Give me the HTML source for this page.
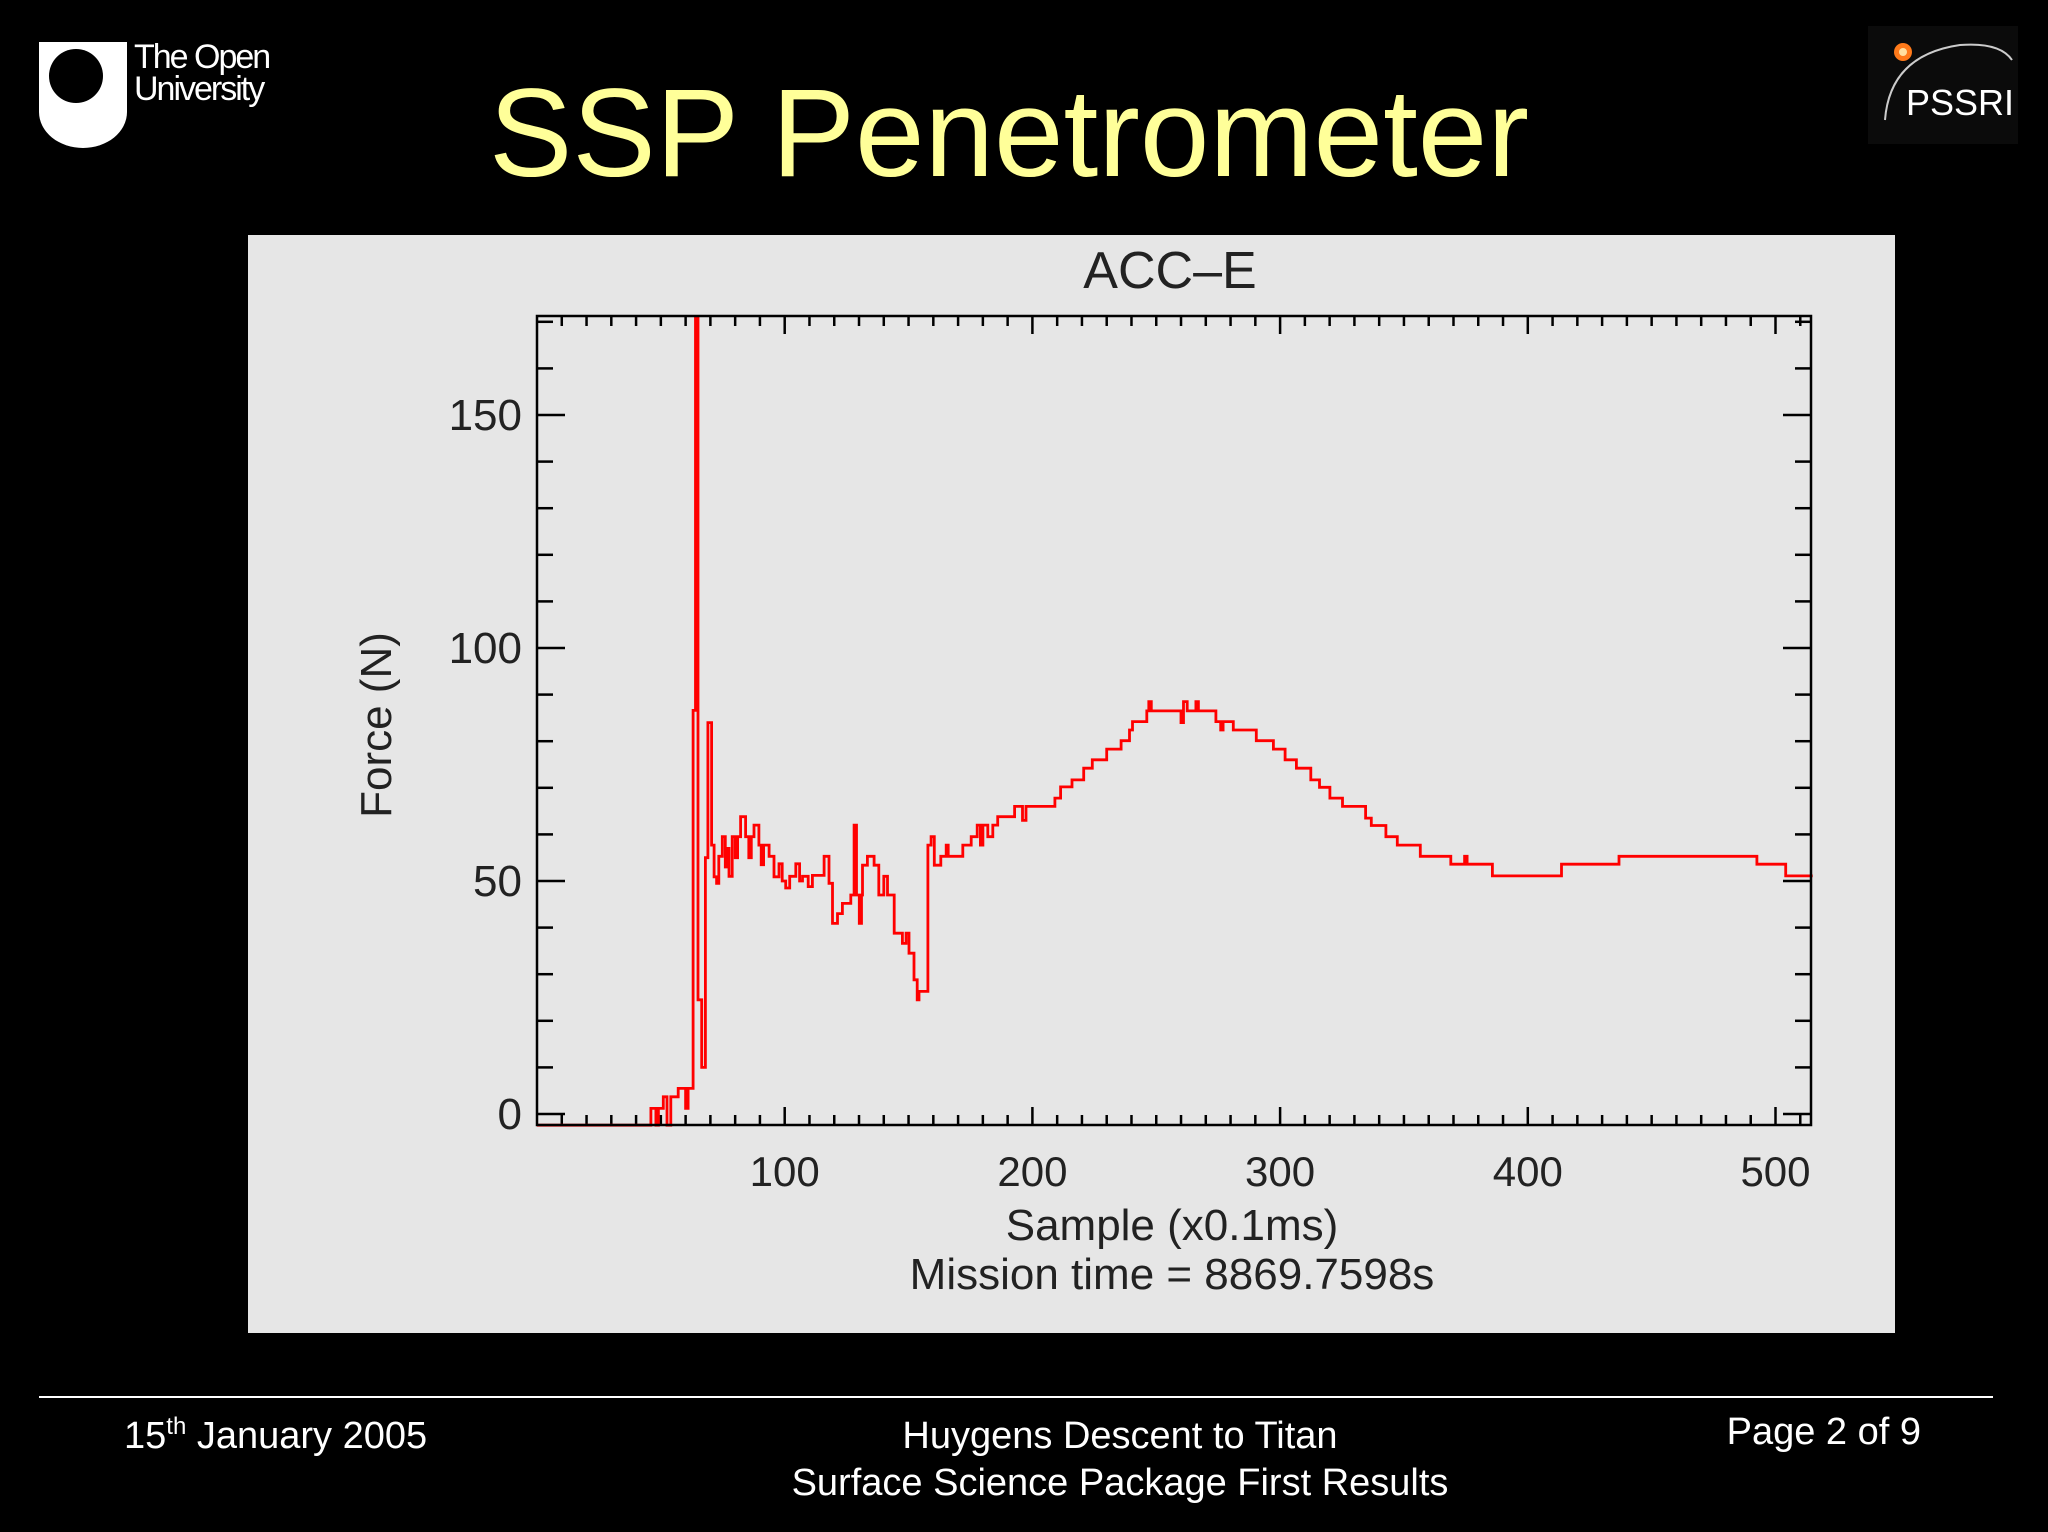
<!DOCTYPE html>
<html><head><meta charset="utf-8"><style>
html,body{margin:0;padding:0;background:#000;}
svg{display:block;}
</style></head><body>
<svg id="slide" width="2048" height="1532" viewBox="0 0 2048 1532" xmlns="http://www.w3.org/2000/svg" font-family="Liberation Sans, sans-serif">
<rect x="0" y="0" width="2048" height="1532" fill="#000"/>
<g>
  <path d="M39 42 H127 V112 A44 36 0 0 1 39 112 Z" fill="#fff"/>
  <circle cx="76" cy="76" r="27" fill="#000"/>
  <text x="134" y="68" font-size="34" fill="#fff" letter-spacing="-2">The Open</text>
  <text x="134" y="100" font-size="34" fill="#fff" letter-spacing="-2">University</text>
</g>
<g>
  <rect x="1868" y="26" width="150" height="118" fill="#0b0b0b"/>
  <path d="M1885 120 Q1890 55 1960 45 Q2000 42 2012 60" fill="none" stroke="#ccc" stroke-width="2"/>
  <circle cx="1903" cy="52" r="9" fill="#ff7a1a"/>
  <circle cx="1903" cy="52" r="4" fill="#ffe0a0"/>
  <text x="1906" y="115" font-size="36" fill="#fff">PSSRI</text>
</g>
<text x="1009" y="176" font-size="125" fill="#ffff99" text-anchor="middle">SSP Penetrometer</text>
<rect x="248" y="235" width="1647" height="1098" fill="#e6e6e6"/>
<g id="chart"></g>
<line x1="39" y1="1397" x2="1993" y2="1397" stroke="#fff" stroke-width="2"/>
<text x="124" y="1448" font-size="38" fill="#fff">15<tspan font-size="24" dy="-14">th</tspan><tspan dy="14"> January 2005</tspan></text>
<text x="1120" y="1448" font-size="38" fill="#fff" text-anchor="middle">Huygens Descent to Titan</text>
<text x="1120" y="1495" font-size="38" fill="#fff" text-anchor="middle">Surface Science Package First Results</text>
<text x="1921" y="1444" font-size="38" fill="#fff" text-anchor="end">Page 2 of 9</text>
</svg>
<script>
const samples = [0,46,48,49,51,52.5,54,57,60,61,63,64,65,66.5,68,69,70.5,71.5,72.5,73.4,74.8,76,76.8,77.5,78.8,80,81,82.2,84.2,85.5,86.5,87.6,89.6,90.5,91.5,93.7,95.7,97.7,99,100.4,102,104.5,106,107.2,109.5,111.2,115.9,117.9,119.3,121.3,123.3,126.7,128,129,130.1,131,131.4,133.4,136.1,138,140,141.5,144.2,147.5,149,150.2,152.2,153.5,154.2,157.8,159.1,160.4,163,165.2,166,171.9,175.3,177.7,179,180,182,184,186,192.8,196,197.4,209.1,211.4,216,220.7,224.2,230,235.8,239.2,240.4,246.2,247,248,260,261,262.5,266,267,274.1,276,277,281.1,290.4,297.3,302,306.6,312.4,315.9,320.1,325.2,334.5,336.8,342.7,347.3,356.6,368.9,374.5,375.5,385.7,413.6,436.8,492.5,504.1];
const forces = [-2.4,1.2,-2.4,1.2,3.7,-2.4,3.7,5.5,1.2,5.5,86.6,171,24.5,10,55,84,57.7,50.9,49.5,55.3,59.5,53,57,51,59.5,55,59.5,63.8,59.5,55,59.5,62,57.7,53.5,57.7,55.3,50.9,53.7,50,48.5,51,53.7,50,51,48.8,51.2,55.3,49.5,40.9,43,45.2,47,62,47,40.9,47,53.4,55.3,53.4,47,51,47,38.8,36.6,38.8,34.5,28.8,24.5,26.3,57.7,59.5,53.4,55.3,57.7,55.3,57.7,59.5,62,57.7,62,59.5,62,63.8,66,63,66,67.8,70.2,71.7,74.2,76,78.3,80.1,82.4,84.2,86.5,88.5,86.5,84,88.5,86.5,88.5,86.5,84.2,82.4,84.2,82.4,80.1,78.3,76,74.2,71.7,70.1,67.8,66,63.5,61.9,59.5,57.7,55.3,53.6,55.3,53.6,51.1,53.6,55.3,53.6,51.1];
const yTicks = [0,50,100,150];
const xTicks = [100,200,300,400,500];
const sampleEnd = 515;

const NS='http://www.w3.org/2000/svg';
const L=537,R=1811,T=316,B=1125;
const xs=s=>L+s*2.477;
const ys=v=>1114-v*4.66;
const g=document.getElementById('chart');
function mk(tag,attrs,parent){const e=document.createElementNS(NS,tag);for(const k in attrs)e.setAttribute(k,attrs[k]);(parent||g).appendChild(e);return e;}
const tk=mk('g',{stroke:'#000','stroke-width':2.5});


for(let v=0;v<=170;v+=10){
  const len=(v%50===0)?28:16;
  mk('line',{x1:L,x2:L+len,y1:ys(v),y2:ys(v)},tk);
  mk('line',{x1:R,x2:R-len,y1:ys(v),y2:ys(v)},tk);
}
for(let s=10;s<=510;s+=10){
  const len=(s%100===0)?18:10;
  mk('line',{x1:xs(s),x2:xs(s),y1:B,y2:B-len},tk);
  mk('line',{x1:xs(s),x2:xs(s),y1:T,y2:T+len},tk);
}
let d='';
for(let i=0;i<samples.length;i++){
  const x0=xs(samples[i]), x1=xs(i+1<samples.length?samples[i+1]:sampleEnd), y=ys(forces[i]);
  d+=(i===0?'M':'L')+x0.toFixed(1)+' '+y.toFixed(1)+' L'+x1.toFixed(1)+' '+y.toFixed(1)+' ';
}
const trace=mk('path',{d:d,fill:'none',stroke:'#ff0000','stroke-width':2.8,'stroke-linejoin':'miter'});


const fr=mk('rect',{x:L,y:T,width:R-L,height:B-T,fill:'none',stroke:'#000','stroke-width':2.5});


const tc='#222';
yTicks.forEach(v=>{
  const t=mk('text',{x:522,y:ys(v)+15,'font-size':44,fill:tc,'text-anchor':'end'});
  t.textContent=v;
  
  
});
xTicks.forEach(s=>{
  const t=mk('text',{x:xs(s),y:1186,'font-size':42,fill:tc,'text-anchor':'middle'});
  t.textContent=s;
  
  
});
const title=mk('text',{x:1170,y:288,'font-size':52,fill:tc,'text-anchor':'middle'});
title.textContent='ACC\u2013E';


const xt=mk('text',{x:1172,y:1240,'font-size':44,fill:tc,'text-anchor':'middle'});
xt.textContent='Sample (x0.1ms)';


const mt=mk('text',{x:1172,y:1289,'font-size':44,fill:tc,'text-anchor':'middle'});
mt.textContent='Mission time = 8869.7598s';


const yt=mk('text',{x:0,y:0,'font-size':44,fill:tc,'text-anchor':'middle',transform:'translate(391 725) rotate(-90)'});
yt.textContent='Force (N)';


</script>
</body></html>
